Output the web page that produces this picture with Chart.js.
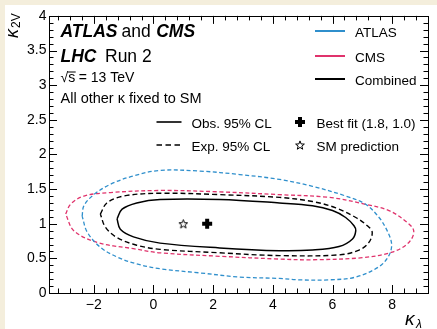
<!DOCTYPE html>
<html>
<head>
<meta charset="utf-8">
<script src="https://cdn.jsdelivr.net/npm/chart.js@4/dist/chart.umd.min.js"></script>
<style>
    html, body { margin: 0; padding: 0; background: #f4eedc; }
    #wrap { position: absolute; left: 5px; top: 5px; width: 432px; height: 324px; background: #fff; }
    canvas { display: block; }
</style>
</head>
<body>
<div id="wrap"><canvas id="kappaChart" width="432" height="324"></canvas></div>
<script>
// kappa_lambda vs kappa_2V 95% CL contours

// ATLAS dashed contour
const atlasX = [-2.39, -2.33, -2.0, -1.44, -0.67, 0.22, 1.56, 2.89, 4.22, 5.33, 6.44, 7.11, 7.56, 7.83, 7.98, 7.89, 7.56, 6.78, 5.89, 4.89, 4.22, 2.89, 1.56, 0.22, -0.56, -1.22, -1.78, -2.22, -2.39];
const atlasY = [1.11, 1.26, 1.42, 1.57, 1.69, 1.77, 1.76, 1.71, 1.64, 1.54, 1.40, 1.28, 1.09, 0.90, 0.71, 0.54, 0.38, 0.23, 0.19, 0.19, 0.21, 0.23, 0.29, 0.35, 0.42, 0.52, 0.66, 0.88, 1.11];

// CMS dashed contour
const cmsX = [-2.94, -2.78, -2.33, -1.44, 0.22, 2.22, 4.22, 5.89, 7.11, 7.89, 8.44, 8.72, 8.56, 8.0, 7.0, 5.33, 4.22, 2.22, 0.22, -0.67, -1.89, -2.67, -2.94];
const cmsY = [1.14, 1.28, 1.40, 1.45, 1.48, 1.46, 1.42, 1.38, 1.28, 1.19, 1.04, 0.90, 0.73, 0.59, 0.51, 0.48, 0.49, 0.53, 0.58, 0.64, 0.73, 0.90, 1.14];

// Combined, expected (dashed)
const combExpX = [-1.78, -1.56, -1.0, 0.22, 2.22, 4.22, 5.33, 6.11, 6.78, 7.17, 7.33, 7.22, 6.89, 6.22, 4.22, 2.22, 0.22, -0.56, -1.22, -1.61, -1.78];
const combExpY = [1.14, 1.30, 1.40, 1.44, 1.42, 1.38, 1.32, 1.23, 1.09, 0.97, 0.88, 0.73, 0.62, 0.55, 0.54, 0.58, 0.63, 0.69, 0.80, 0.95, 1.14];

// Combined, observed (solid)
const combObsX = [-1.22, -1.05, -0.56, 0.22, 2.22, 4.22, 5.33, 6.0, 6.44, 6.72, 6.78, 6.67, 6.22, 5.33, 4.22, 2.22, 0.22, -0.67, -1.11, -1.22];
const combObsY = [1.07, 1.21, 1.30, 1.35, 1.35, 1.30, 1.26, 1.19, 1.09, 0.97, 0.90, 0.78, 0.67, 0.62, 0.61, 0.65, 0.72, 0.81, 0.92, 1.07];

const bestFit = [1.8, 1.0];
const smPoint = [1.0, 1.0];

const xTickValues = [-2, 0, 2, 4, 6, 8];
const yTickValues = [0, 0.5, 1, 1.5, 2, 2.5, 3, 3.5, 4];

const FONT = "'Liberation Sans', Arial, Helvetica, sans-serif";
const BLUE = '#2f8fcc';
const PINK = '#e0336c';

function toPoints(xs, ys) {
    return xs.map((x, i) => ({ x: x, y: ys[i] }));
}

// format ticks with a real minus sign
function fmt(v) {
    const s = String(Math.round(v * 10) / 10);
    return s.replace('-', '\u2212');
}

// Star marker for the SM point
function makeStar(r, fill) {
    const c = document.createElement('canvas');
    const size = Math.ceil(r * 2 + 3);
    c.width = size; c.height = size;
    const g = c.getContext('2d');
    drawStar(g, size / 2, size / 2 + 0.5, r, fill);
    return c;
}

function drawStar(g, cx, cy, r, fill) {
    g.save();
    g.beginPath();
    for (let i = 0; i < 10; i++) {
        const rr = i % 2 === 0 ? r : r * 0.42;
        const a = -Math.PI / 2 + i * Math.PI / 5;
        const px = cx + rr * Math.cos(a);
        const py = cy + rr * Math.sin(a);
        if (i === 0) g.moveTo(px, py); else g.lineTo(px, py);
    }
    g.closePath();
    g.fillStyle = fill;
    g.fill();
    g.lineWidth = 1;
    g.strokeStyle = '#000';
    g.stroke();
    g.restore();
}

function drawPlus(g, cx, cy, r, w) {
    g.save();
    g.strokeStyle = '#000';
    g.lineWidth = w;
    g.beginPath();
    g.moveTo(cx - r, cy); g.lineTo(cx + r, cy);
    g.moveTo(cx, cy - r); g.lineTo(cx, cy + r);
    g.stroke();
    g.restore();
}

const starImg = makeStar(4.6, '#fff');

// Inward ticks on all four sides, frame, and all the in-plot text
const decorPlugin = {
    id: 'decor',
    afterDatasetsDraw(chart) {
        const g = chart.ctx;
        const a = chart.chartArea;
        const xs = chart.scales.x;
        const ys = chart.scales.y;
        g.save();
        g.strokeStyle = '#000';
        g.lineWidth = 1;
        g.setLineDash([]);
        g.beginPath();
        // x ticks every 0.4, major every 2
        for (let k = -8; k <= 22; k++) {
            const v = k * 0.4;
            const px = Math.round(xs.getPixelForValue(v)) + 0.5;
            const len = k % 5 === 0 ? 8 : 4.5;
            g.moveTo(px, a.bottom); g.lineTo(px, a.bottom - len);
            g.moveTo(px, a.top); g.lineTo(px, a.top + len);
        }
        // y ticks every 0.1, major every 0.5
        for (let k = 1; k < 40; k++) {
            const v = k * 0.1;
            const py = Math.round(ys.getPixelForValue(v)) + 0.5;
            const len = k % 5 === 0 ? 8 : 4.5;
            g.moveTo(a.left, py); g.lineTo(a.left + len, py);
            g.moveTo(a.right, py); g.lineTo(a.right - len, py);
        }
        g.stroke();
        g.strokeRect(Math.round(a.left) + 0.5, Math.round(a.top) + 0.5,
            Math.round(a.right - a.left), Math.round(a.bottom - a.top));
        g.restore();
    },
    afterDraw(chart) {
        const g = chart.ctx;
        g.save();
        g.fillStyle = '#000';
        g.textBaseline = 'alphabetic';
        g.textAlign = 'left';

        // header text
        let x = 55.5;
        g.font = `italic bold 17.5px ${FONT}`;
        g.fillText('ATLAS', x, 32);
        x += g.measureText('ATLAS').width + 4;
        g.font = `17.5px ${FONT}`;
        g.fillText('and', x, 32);
        x += g.measureText('and').width + 5.5;
        g.font = `italic bold 17.5px ${FONT}`;
        g.fillText('CMS', x, 32);

        g.fillText('LHC', 55.5, 56.5);
        g.font = `17.5px ${FONT}`;
        g.fillText('Run 2', 100, 56.5);

        g.font = `14px ${FONT}`;
        g.fillText('\u221A', 55.5, 77);
        let sx = 55.5 + g.measureText('\u221A').width;
        g.fillText('s', sx, 77);
        const sw = g.measureText('s').width;
        g.fillRect(sx - 0.5, 66.5, sw + 1, 1);
        g.fillText('= 13 TeV', sx + sw + 3.5, 77);

        g.font = `14.5px ${FONT}`;
        g.fillText('All other \u03BA fixed to SM', 55.5, 98);

        // legend: experiments
        g.font = `13.5px ${FONT}`;
        const rows = [['ATLAS', BLUE, 26], ['CMS', PINK, 51], ['Combined', '#000', 74]];
        rows.forEach(r => {
            g.strokeStyle = r[1];
            g.lineWidth = 2;
            g.beginPath();
            g.moveTo(310, r[2]); g.lineTo(340, r[2]);
            g.stroke();
            g.fillText(r[0], 350, r[2] + 5.5);
        });

        // legend: line styles
        g.strokeStyle = '#000';
        g.lineWidth = 1.6;
        g.beginPath();
        g.moveTo(151.5, 117); g.lineTo(176.5, 117);
        g.stroke();
        g.setLineDash([5.5, 3.5]);
        g.beginPath();
        g.moveTo(151.5, 140); g.lineTo(176.5, 140);
        g.stroke();
        g.setLineDash([]);
        g.fillText('Obs. 95% CL', 186.5, 122.5);
        g.fillText('Exp. 95% CL', 186.5, 145.5);

        drawPlus(g, 295, 117, 5, 4);
        drawStar(g, 295, 140.5, 4.6, '#fff');
        g.fillStyle = '#000';
        g.fillText('Best fit (1.8, 1.0)', 311.5, 122.5);
        g.fillText('SM prediction', 311.5, 145.5);

        // axis titles
        g.save();
        g.translate(13, 33);
        g.rotate(-Math.PI / 2);
        g.font = `italic 18px ${FONT}`;
        g.fillText('\u03BA', 0, 0);
        g.font = `12px ${FONT}`;
        g.fillText('2V', 10, 2);
        g.restore();

        g.font = `italic 19px ${FONT}`;
        g.fillText('\u03BA', 400, 320);
        g.font = `italic 12px ${FONT}`;
        g.fillText('\u03BB', 411, 322.5);

        g.restore();
    }
};

const contourStyle = (color, dash, width) => ({
    showLine: true,
    fill: false,
    borderColor: color,
    borderWidth: width,
    borderDash: dash,
    pointRadius: 0,
    pointHoverRadius: 0,
    tension: 0.35
});

const ctx = document.getElementById('kappaChart').getContext('2d');
new Chart(ctx, {
    type: 'scatter',
    data: {
        datasets: [
            Object.assign({ label: 'ATLAS', data: toPoints(atlasX, atlasY) }, contourStyle(BLUE, [4, 2.5], 1.3)),
            Object.assign({ label: 'CMS', data: toPoints(cmsX, cmsY) }, contourStyle(PINK, [4, 2.5], 1.3)),
            Object.assign({ label: 'Combined exp.', data: toPoints(combExpX, combExpY) }, contourStyle('#000', [5, 3], 1.4)),
            Object.assign({ label: 'Combined obs.', data: toPoints(combObsX, combObsY) }, contourStyle('#000', [], 1.5)),
            {
                label: 'Best fit',
                data: [{ x: bestFit[0], y: bestFit[1] }],
                pointStyle: 'cross',
                pointRadius: 5,
                pointBorderWidth: 4,
                pointBorderColor: '#000',
                borderColor: '#000'
            },
            {
                label: 'SM prediction',
                data: [{ x: smPoint[0], y: smPoint[1] }],
                pointStyle: starImg,
                pointRadius: 5
            }
        ]
    },
    options: {
        responsive: false,
        animation: false,
        events: [],
        layout: { padding: { top: 8, right: 8, left: 0, bottom: 0 } },
        plugins: {
            legend: { display: false },
            tooltip: { enabled: false }
        },
        scales: {
            x: {
                type: 'linear',
                min: -3.5,
                max: 9.2,
                afterBuildTicks: s => { s.ticks = xTickValues.map(v => ({ value: v })); },
                afterFit: s => { s.height = 36; },
                grid: { display: false, drawTicks: false },
                border: { display: false },
                ticks: {
                    padding: 4,
                    color: '#000',
                    font: { family: FONT, size: 14 },
                    maxRotation: 0,
                    callback: v => fmt(v)
                }
            },
            y: {
                type: 'linear',
                min: 0,
                max: 4,
                afterBuildTicks: s => { s.ticks = yTickValues.map(v => ({ value: v })); },
                afterFit: s => { s.width = 44; },
                grid: { display: false, drawTicks: false },
                border: { display: false },
                ticks: {
                    padding: 2.5,
                    color: '#000',
                    font: { family: FONT, size: 14 },
                    callback: v => fmt(v)
                }
            }
        }
    },
    plugins: [decorPlugin]
});
</script>
</body>
</html>
